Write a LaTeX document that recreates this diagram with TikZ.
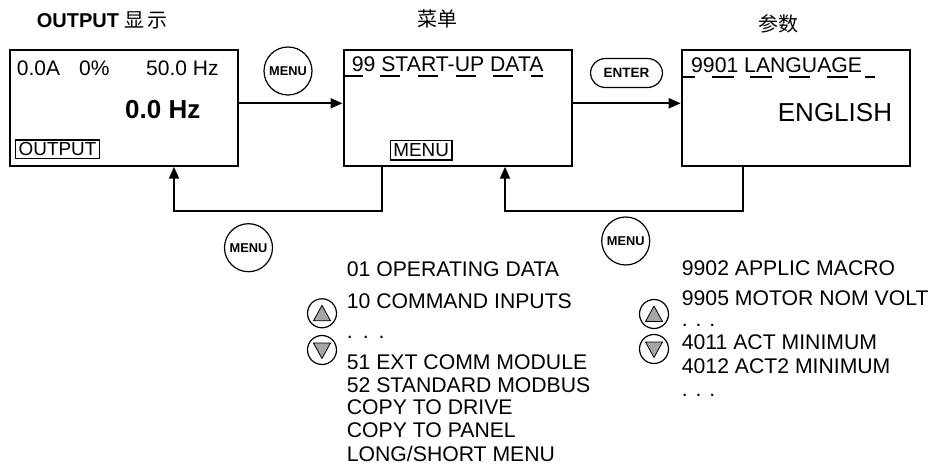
\documentclass[tikz,border=0pt]{standalone}
\usepackage{fontspec}
\setmainfont{Liberation Sans}
\newfontfamily\cjk{Noto Sans CJK SC}
\usetikzlibrary{arrows.meta}
\tikzset{
  lcd/.style={draw, line width=2pt, minimum width=228pt, minimum height=115.5pt, inner sep=0pt},
  tag/.style={draw, line width=1.6pt, inner xsep=3pt, inner ysep=0pt, minimum height=18.5pt, font=\fontsize{18.9}{20}\selectfont},
  txt/.style={anchor=base west, inner sep=0pt, font=\fontsize{21.2}{22}\selectfont},
  key/.style={circle, draw, line width=1.2pt, minimum size=48pt, inner sep=0pt, font=\bfseries\fontsize{12.8}{12.8}\selectfont},
  updn/.style={circle, draw, line width=1.2pt, minimum size=29pt, inner sep=0pt},
  tri/.style={fill=gray!70, draw, line width=0.8pt, line join=round},
  link/.style={line width=2pt, -{Triangle[length=12pt,width=10pt]}},
  cursor/.style={line width=2pt, dash pattern=on 20pt off 17.7pt},
}

\begin{document}
\begin{tikzpicture}[x=1pt, y=-1pt]
  \useasboundingbox (0,0) rectangle (935,473);
  % the three screens
  \node[lcd] (disp) at (123.8,108) {};
  \node[lcd] (menu) at (457.5,108) {};
  \node[lcd] (par)  at (795.7,108) {};
  \node[anchor=base west, inner sep=0pt, font=\bfseries\fontsize{20}{20}\selectfont] (ttl1) at (36.7,27.3)
    {OUTPUT {\mdseries\cjk\fontsize{20}{20}\selectfont 显\hspace{3pt}示}};
  \node[font=\cjk\fontsize{20}{20}\selectfont] (ttl2) at (437.5,19.3) {菜单};
  \node[font=\cjk\fontsize{20}{20}\selectfont] (ttl3) at (778.7,24) {参数};
  % output screen
  \node[txt, font=\fontsize{21}{22}\selectfont] (amp)  at (16.7,76) {0.0A};
  \node[txt, font=\fontsize{21}{22}\selectfont] (pct)  at (79,76) {0\%};
  \node[txt, font=\fontsize{21}{22}\selectfont] (freq) at (146,76) {50.0 Hz};
  \node[txt, font=\bfseries\fontsize{26}{28}\selectfont] (outf) at (125,118.3) {0.0 Hz};
  \node[tag] (outtag) at (57.5,149.3) {OUTPUT};
  % menu screen
  \node[txt] (grp) at (351.7,71.7) {99 START-UP DATA};
  \coordinate (u1) at (543,76);
  \draw[cursor] (menu.west |- u1) -- (u1);
  \node[tag, minimum height=19.5pt] (menutag) at (421.2,150.2) {MENU};
  % parameter screen
  \node[txt] (prm) at (691,72.7) {9901 LANGUAGE};
  \coordinate (u2) at (875,77.3);
  \draw[cursor, dash pattern=on 21.5pt off 16.8pt, dash phase=7pt] (par.west |- u2) -- (u2);
  \node[txt, font=\fontsize{26}{28}\selectfont] (lang) at (777.7,121.7) {ENGLISH};
  % keys
  \node[key] (kmenu1) at (288,71) {MENU};
  \node[draw, line width=1.2pt, rounded corners=15pt, minimum width=72pt, minimum height=29pt,
    inner sep=0pt, font=\bfseries\fontsize{13.5}{13.5}\selectfont] (kenter) at (626.5,73) {ENTER};
  \node[key] (kmenu2) at (248.5,247.7) {MENU};
  \node[key] (kmenu3) at (625.7,241) {MENU};
  \node[updn] (up1) at (322,313.3) {};
  \node[updn] (dn1) at (322,350) {};
  \node[updn] (up2) at (654,314) {};
  \node[updn] (dn2) at (654,349) {};
  \filldraw[tri] (up1.center) ++(0,-8) -- ++(8.5,15.5) -- ++(-17,0) -- cycle;
  \filldraw[tri] (dn1.center) ++(0,8.5) -- ++(8.5,-15.5) -- ++(-17,0) -- cycle;
  \filldraw[tri] (up2.center) ++(0,-8) -- ++(8.5,15.5) -- ++(-17,0) -- cycle;
  \filldraw[tri] (dn2.center) ++(0,8.5) -- ++(8.5,-15.5) -- ++(-17,0) -- cycle;
  % arrows
  \draw[link] ([yshift=4.7pt]disp.east) -- ([yshift=4.7pt]menu.west);
  \draw[link] ([yshift=4.7pt]menu.east) -- ([yshift=4.7pt]par.west);
  \coordinate (c1) at (381.7,210.7); \coordinate (c2) at (174,210.7);
  \coordinate (c3) at (742.7,210.7); \coordinate (c4) at (505,210.7);
  \draw[link] (menu.south -| c1) -- (c1) -- (c2) -- (disp.south -| c2);
  \draw[link] (par.south -| c3) -- (c3) -- (c4) -- (menu.south -| c4);
  % groups list
  \node[txt] (g01) at (346.7,276.5) {01 OPERATING DATA};
  \node[txt] (g10) at (346.7,308.3) {10 COMMAND INPUTS};
  \node[txt] (gdots) at (346.7,338.3) {.\hspace{10pt}.\hspace{10pt}.};
  \node[txt] (g51) at (346.7,369) {51 EXT COMM MODULE};
  \node[txt] (g52) at (346.7,392) {52 STANDARD MODBUS};
  \node[txt] (gcd) at (346.7,414.5) {COPY TO DRIVE};
  \node[txt] (gcp) at (346.7,437.5) {COPY TO PANEL};
  \node[txt] (gls) at (346.7,461) {LONG/SHORT MENU};
  % parameter list
  \node[txt] (p9902) at (681.7,276) {9902 APPLIC MACRO};
  \node[txt] (p9905) at (681.7,305.5) {9905 MOTOR NOM VOLT};
  \node[txt] (pdots1) at (681.7,326.5) {. . .};
  \node[txt] (p4011) at (681.7,349.3) {4011 ACT MINIMUM};
  \node[txt] (p4012) at (681.7,373.3) {4012 ACT2 MINIMUM};
  \node[txt] (pdots2) at (681.7,396.7) {. . .};
\end{tikzpicture}
\end{document}
